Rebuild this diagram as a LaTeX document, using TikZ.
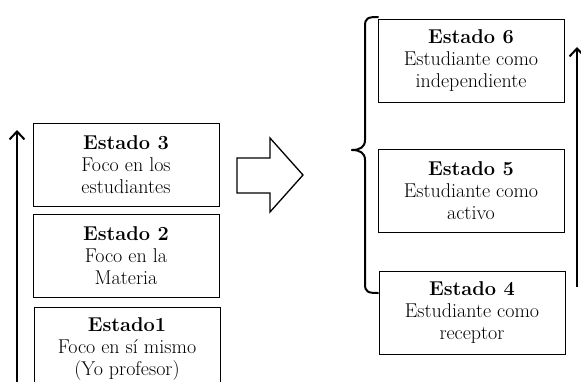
\documentclass[tikz,border=0pt]{standalone}
\usetikzlibrary{arrows.meta}
\tikzset{
  >={Straight Barb[length=8pt,width=15pt,line width=2pt]},
  estado/.style={draw,line width=0.8pt,minimum width=186pt,minimum height=83pt,
    align=center,inner sep=0pt,font=\fontsize{20}{22}\selectfont},
  eje/.style={->,line width=2.2pt},
  llave/.style={line width=2pt,line cap=round}
}

\begin{document}
\begin{tikzpicture}[x=1pt,y=-1pt]
  \useasboundingbox (0,0) rectangle (581,381);
  \begin{scope}
  \clip (0,0) rectangle (581,381);
  %--- Left column: teacher-centred stages -----------------------------------
  \node[estado] (E3) at (126,165) {\textbf{Estado 3}\\Foco en los\\estudiantes};
  \node[estado] (E2) at (126,255.5) {\textbf{Estado 2}\\Foco en la\\Materia};
  \node[estado,anchor=north] (E1) at (127,307) {\textbf{Estado1}\\Foco en s\'i{}\ mismo\\(Yo profesor)};
  \coordinate (ejeAbajo) at (17,392);
  \coordinate (ejeArriba) at (17,130);
  \draw[eje] (ejeAbajo) -- (ejeArriba);

  %--- Big block arrow -------------------------------------------------------
  \draw[line width=1.3pt,line join=miter]
    (237,158) -- (270,158) -- (270,138) -- (303,175) -- (270,212)
    -- (270,193) -- (237,193) -- cycle;

  %--- Right column: student-centred stages ----------------------------------
  \node[estado] (E6) at (471,60.5) {\textbf{Estado 6}\\Estudiante como\\independiente};
  \node[estado] (E5) at (471,190.5) {\textbf{Estado 5}\\Estudiante como\\activo};
  \node[estado] (E4) at (472,313) {\textbf{Estado 4}\\Estudiante como\\receptor};
  \coordinate (llaveArriba) at (378,17);
  \coordinate (llavePunta) at (352,150);
  \coordinate (llaveAbajo) at (378,293);
  \draw[llave] (llaveArriba) .. controls (368,17) and (365,18) .. (365,26)
    -- (365,140) .. controls (365,147) and (360,150) .. (llavePunta);
  \draw[llave] (llavePunta) .. controls (360,150) and (365,153) .. (365,160)
    -- (365,284) .. controls (365,292) and (368,293) .. (llaveAbajo);
  \coordinate (ejeDAbajo) at (577,287);
  \coordinate (ejeDArriba) at (577,47);
  \draw[eje] (ejeDAbajo) -- (ejeDArriba);
  \end{scope}
\end{tikzpicture}
\end{document}
